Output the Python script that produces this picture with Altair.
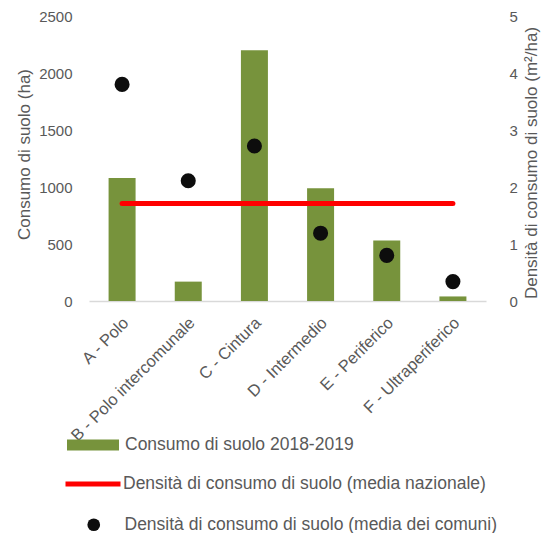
import altair as alt
import pandas as pd

categorie = ["A - Polo", "B - Polo intercomunale", "C - Cintura",
             "D - Intermedio", "E - Periferico", "F - Ultraperiferico"]
consumo_ha = [1080, 170, 2200, 990, 530, 40]
densita_comuni = [3.80, 2.11, 2.72, 1.19, 0.80, 0.34]
densita_nazionale = [1.71, 1.71, 1.71, 1.71, 1.71, 1.71]

serie_barre = "Consumo di suolo 2018-2019"
serie_linea = "Densità di consumo di suolo (media nazionale)"
serie_punti = "Densità di consumo di suolo (media dei comuni)"

df = pd.DataFrame({
    "categoria": categorie,
    "consumo": consumo_ha,
    "comuni": densita_comuni,
    "nazionale": densita_nazionale,
    "s_barre": [serie_barre] * len(categorie),
    "s_linea": [serie_linea] * len(categorie),
    "s_punti": [serie_punti] * len(categorie),
})

FONT = "Liberation Sans"
GREY = "#595959"
LEG_FS = 17.5

xenc = alt.X(
    "categoria:N", sort=categorie,
    scale=alt.Scale(paddingInner=0.592, paddingOuter=0.296),
    axis=alt.Axis(title=None, labelAngle=315, labelAlign="right", labelBaseline="middle",
                  labelPadding=19, labelOffset=4, labelFontSize=16.5, labelColor=GREY,
                  labelFont=FONT, ticks=False, domainColor="#d9d9d9", domainWidth=1.5,
                  labelLimit=400),
)

right_axis = alt.Axis(title="Densità di consumo di suolo  (m²/ha)", orient="right",
                      values=[0, 1, 2, 3, 4, 5], format="d", grid=False, domain=False,
                      ticks=False, labelPadding=23, labelFontSize=15, labelColor=GREY,
                      labelFont=FONT, titleFontSize=17, titleColor=GREY, titleFont=FONT,
                      titleFontWeight="normal", titleAngle=270, titleBaseline="top",
                      titlePadding=6.5, titleY=146.5)

base = alt.Chart(df)

bars = base.mark_bar().encode(
    x=xenc,
    y=alt.Y("consumo:Q", scale=alt.Scale(domain=[0, 2500]),
            axis=alt.Axis(title="Consumo di suolo (ha)", values=[0, 500, 1000, 1500, 2000, 2500],
                          format="d", grid=False, domain=False, ticks=False, labelPadding=17,
                          labelFontSize=15, labelColor=GREY, labelFont=FONT,
                          titleFontSize=17, titleColor=GREY, titleFont=FONT,
                          titleFontWeight="normal", titlePadding=5, titleY=138)),
    color=alt.Color("s_barre:N", scale=alt.Scale(domain=[serie_barre], range=["#77933C"]),
                    legend=alt.Legend(title=None, orient="none", legendX=-22, legendY=403,
                                      symbolType="M-1,-0.21H1V0.21H-1Z", symbolSize=2704,
                                      symbolStrokeWidth=0, symbolOpacity=1, labelOffset=6,
                                      labelFontSize=LEG_FS, labelColor=GREY, labelFont=FONT,
                                      labelLimit=0, padding=0)),
)

linea = base.mark_line(strokeWidth=5, strokeCap="round").encode(
    x=xenc,
    y=alt.Y("nazionale:Q", scale=alt.Scale(domain=[0, 5]), axis=right_axis),
    stroke=alt.Stroke("s_linea:N", scale=alt.Scale(domain=[serie_linea], range=["#FF0000"]),
                      legend=alt.Legend(title=None, orient="none", legendX=-26, legendY=438,
                                        symbolType="stroke", symbolSize=3025,
                                        symbolStrokeWidth=5, labelOffset=0,
                                        labelFontSize=LEG_FS, labelColor=GREY, labelFont=FONT,
                                        labelLimit=0, padding=0)),
)

punti = base.mark_circle(size=227, opacity=1).encode(
    x=xenc,
    y=alt.Y("comuni:Q", scale=alt.Scale(domain=[0, 5]), axis=right_axis),
    fill=alt.Fill("s_punti:N", scale=alt.Scale(domain=[serie_punti], range=["#0d0d0d"]),
                  legend=alt.Legend(title=None, orient="none", legendX=-4, legendY=500,
                                    symbolType="circle", symbolSize=161, symbolOpacity=1,
                                    symbolStrokeWidth=0, labelOffset=22,
                                    labelFontSize=LEG_FS, labelColor=GREY, labelFont=FONT,
                                    labelLimit=0, padding=0)),
)

destra = alt.layer(linea, punti)

chart = alt.layer(bars, destra).resolve_scale(y="independent").properties(
    width=397, height=285,
    autosize=alt.AutoSizeParams(type="none"),
    padding={"left": 81, "top": 8, "right": 58, "bottom": 232},
).configure_view(stroke=None)

chart.save("out.html", embed_options={"renderer": "svg", "actions": False})
